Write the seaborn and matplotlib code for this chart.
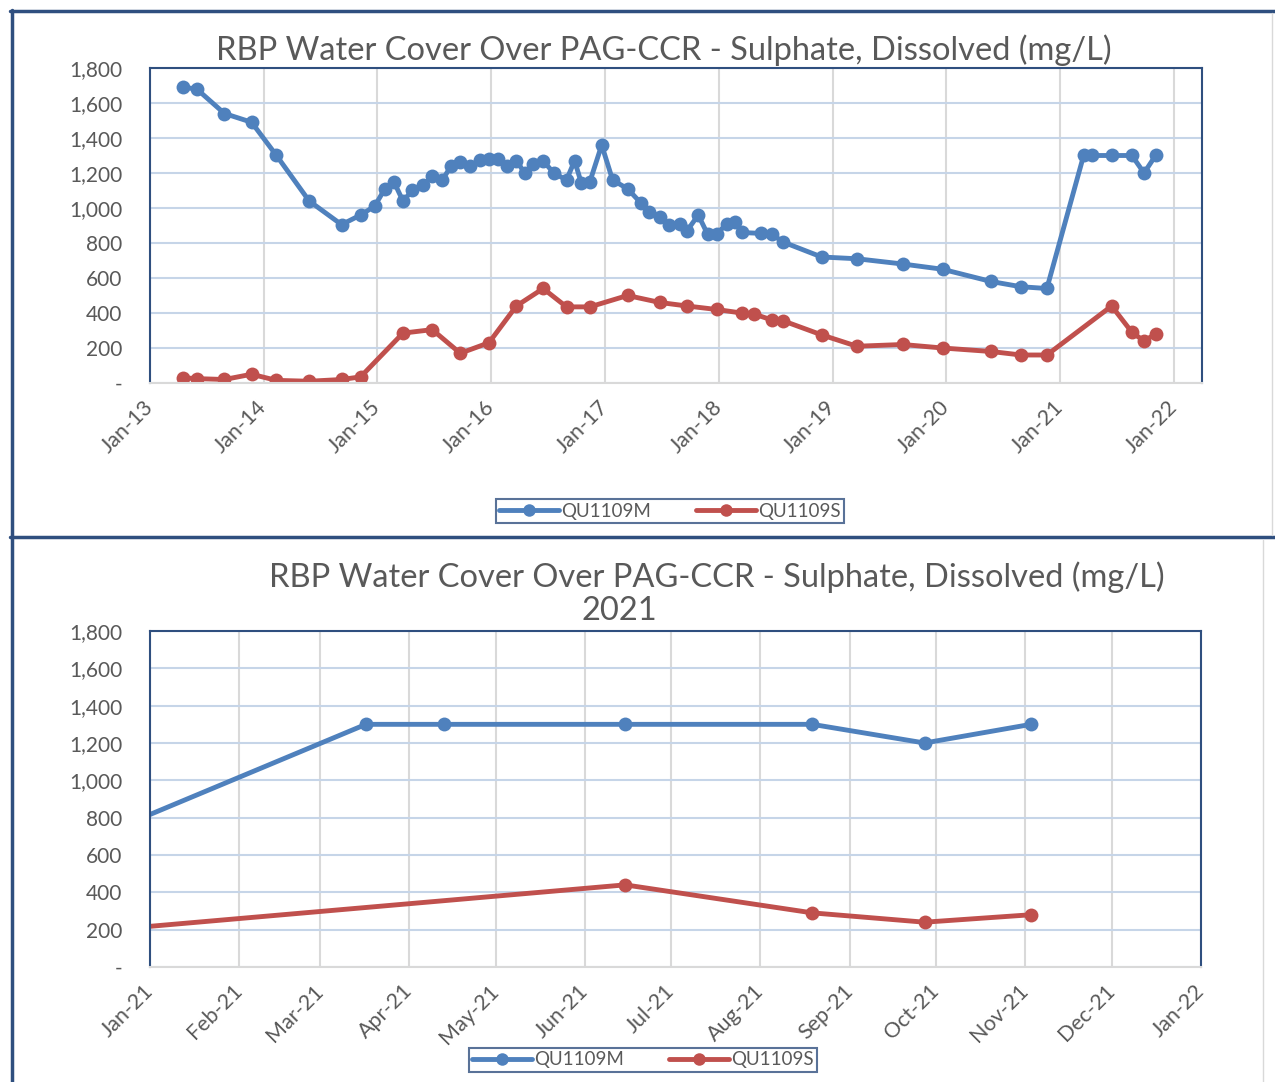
import matplotlib
matplotlib.use('Agg')
import matplotlib.pyplot as plt
import matplotlib.dates as mdates
from matplotlib.lines import Line2D
from matplotlib.ticker import FuncFormatter, MultipleLocator
import pandas as pd
import seaborn as sns


# QU1109M sampling dates and sulphate values (mg/L)
m_dates = ['2013-04-16', '2013-05-31', '2013-08-28', '2013-11-23', '2014-02-11',
           '2014-05-27', '2014-09-08', '2014-11-08', '2014-12-23', '2015-01-25',
           '2015-02-23', '2015-03-24', '2015-04-23', '2015-05-27', '2015-06-26',
           '2015-07-28', '2015-08-26', '2015-09-24', '2015-10-26', '2015-11-25',
           '2015-12-25', '2016-01-23', '2016-02-22', '2016-03-22', '2016-04-18',
           '2016-05-14', '2016-06-16', '2016-07-20', '2016-08-30', '2016-09-25',
           '2016-10-17', '2016-11-13', '2016-12-21', '2017-01-25', '2017-03-14',
           '2017-04-25', '2017-05-22', '2017-06-26', '2017-07-25', '2017-08-29',
           '2017-09-21', '2017-10-27', '2017-11-26', '2017-12-25', '2018-01-26',
           '2018-02-22', '2018-03-15', '2018-05-15', '2018-06-20', '2018-07-27',
           '2018-11-27', '2019-03-20', '2019-08-14', '2019-12-20', '2020-05-24',
           '2020-08-28', '2020-11-19', '2021-03-17', '2021-04-13', '2021-06-15',
           '2021-08-19', '2021-09-27', '2021-11-03']
m_values = [1690, 1680, 1540, 1490, 1300,
            1040, 905, 960, 1010, 1110,
            1150, 1040, 1100, 1130, 1180,
            1160, 1240, 1265, 1240, 1275,
            1280, 1280, 1240, 1270, 1200,
            1250, 1270, 1200, 1160, 1270,
            1140, 1150, 1360, 1160, 1110,
            1030, 975, 950, 905, 910,
            870, 960, 850, 850, 910,
            920, 860, 855, 850, 805,
            720, 710, 680, 650, 580,
            550, 540, 1300, 1300, 1300,
            1300, 1200, 1300]

# QU1109S sampling dates and sulphate values (mg/L)
s_dates = ['2013-04-16', '2013-05-31', '2013-08-28', '2013-11-23', '2014-02-11',
           '2014-05-27', '2014-09-08', '2014-11-08', '2015-03-24', '2015-06-26',
           '2015-09-24', '2015-12-25', '2016-03-22', '2016-06-16', '2016-08-30',
           '2016-11-13', '2017-03-14', '2017-06-26', '2017-09-21', '2017-12-25',
           '2018-03-15', '2018-04-23', '2018-06-20', '2018-07-27', '2018-11-27',
           '2019-03-20', '2019-08-14', '2019-12-20', '2020-05-24', '2020-08-28',
           '2020-11-19', '2021-06-15', '2021-08-19', '2021-09-27', '2021-11-03']
s_values = [30, 25, 20, 50, 15,
            10, 20, 35, 285, 305,
            170, 230, 440, 540, 435,
            435, 500, 460, 440, 420,
            400, 395, 360, 355, 275,
            210, 220, 200, 180, 160,
            160, 440, 290, 240, 280]

stations = ['QU1109M', 'QU1109S']
colors = ['#4f81bd', '#c0504d']
title = 'RBP Water Cover Over PAG-CCR - Sulphate, Dissolved (mg/L)'

TXT = '#595959'
FRAME = '#2f4f7f'

df = pd.concat([
    pd.DataFrame({'date': pd.to_datetime(m_dates), 'value': m_values, 'station': stations[0]}),
    pd.DataFrame({'date': pd.to_datetime(s_dates), 'value': s_values, 'station': stations[1]}),
])

sns.set_style('white')
plt.rcParams['font.family'] = ['Lato', 'DejaVu Sans']

W, H = 1275, 1082
fig = plt.figure(figsize=(W / 100, H / 100), dpi=100)


def fx(px):
    return px / W


def fy(py):
    return 1 - py / H


def draw_panel(ax, xlim, major, minor, fmt):
    sns.lineplot(data=df, x='date', y='value', hue='station', palette=colors,
                 hue_order=stations, marker='o', markersize=10, markeredgewidth=0,
                 linewidth=3.5, legend=False, ax=ax, sort=True, estimator=None)
    ax.set_xlim(pd.Timestamp(xlim[0]), pd.Timestamp(xlim[1]))
    ax.set_ylim(0, 1800)
    ax.yaxis.set_major_locator(MultipleLocator(200))
    ax.yaxis.set_major_formatter(FuncFormatter(lambda v, p: '-' if v == 0 else f'{v:,.0f}'))
    ax.xaxis.set_major_locator(major)
    if minor is not None:
        ax.xaxis.set_minor_locator(minor)
    ax.xaxis.set_major_formatter(mdates.DateFormatter(fmt))
    ax.grid(axis='y', color='#c6d5e8', linewidth=1.5)
    ax.grid(axis='x', which='major', color='#d9d9d9', linewidth=1.5)
    ax.set_axisbelow(True)
    ax.set_xlabel('')
    ax.set_ylabel('')
    for side in ['left', 'top', 'right']:
        ax.spines[side].set_color(FRAME)
        ax.spines[side].set_linewidth(1.5)
    ax.spines['bottom'].set_color('#d9d9d9')
    ax.spines['bottom'].set_linewidth(1.5)
    ax.tick_params(axis='y', length=0, pad=20, labelsize=15, labelcolor=TXT)
    ax.tick_params(axis='x', which='both', direction='out', length=5, width=1.2,
                   color='#d9d9d9', labelsize=15.5, labelcolor=TXT, pad=10)
    for lab in ax.get_xticklabels():
        lab.set_rotation(45)
        lab.set_ha('right')
        lab.set_va('center')
        lab.set_rotation_mode('anchor')


ax1 = fig.add_axes([fx(150), fy(383), fx(1202) - fx(150), fy(68) - fy(383)])
draw_panel(ax1, ('2013-01-01', '2022-04-01'), mdates.YearLocator(),
           mdates.MonthLocator(), '%b-%y')

ax2 = fig.add_axes([fx(150), fy(967), fx(1201) - fx(150), fy(631) - fy(967)])
draw_panel(ax2, ('2021-01-01', '2022-01-01'), mdates.MonthLocator(), None, '%b-%y')

# titles
fig.text(fx(664), fy(50), title, ha='center', va='center', fontsize=23.5, color=TXT)
fig.text(fx(717), fy(577), title, ha='center', va='center', fontsize=23.5, color=TXT)
fig.text(fx(619), fy(611), '2021', ha='center', va='center', fontsize=23.5, color=TXT)

# legends
handles = [Line2D([], [], color=c, linewidth=3.5, marker='o', markersize=9,
                  markeredgewidth=0) for c in colors]
for cx, cy in [(670, 511), (643, 1060)]:
    leg = fig.legend(handles, stations, loc='center', bbox_to_anchor=(fx(cx), fy(cy)),
                     ncol=2, frameon=True, fancybox=False, fontsize=13.5,
                     handlelength=3.2, handletextpad=0.1, columnspacing=2.4,
                     borderpad=0.2, borderaxespad=0.0)
    leg.get_frame().set_edgecolor(FRAME)
    leg.get_frame().set_linewidth(1.5)
    for t in leg.get_texts():
        t.set_color(TXT)

# panel frames
frame_lines = [
    ([fx(12), fx(12)], [fy(10), fy(537)]),
    ([fx(10), fx(1275)], [fy(11), fy(11)]),
    ([fx(10), fx(1275)], [fy(537), fy(537)]),
    ([fx(12), fx(12)], [fy(537), fy(1082)]),
]
for xs, ys in frame_lines:
    fig.add_artist(Line2D(xs, ys, transform=fig.transFigure, color=FRAME, linewidth=2.5))
fig.add_artist(Line2D([fx(1272), fx(1272)], [fy(13), fy(535)], transform=fig.transFigure,
                      color='#d9d9d9', linewidth=1))
fig.add_artist(Line2D([fx(1263), fx(1263)], [fy(540), fy(1082)], transform=fig.transFigure,
                      color='#d9d9d9', linewidth=1))

fig.savefig('out.png', dpi=100)
